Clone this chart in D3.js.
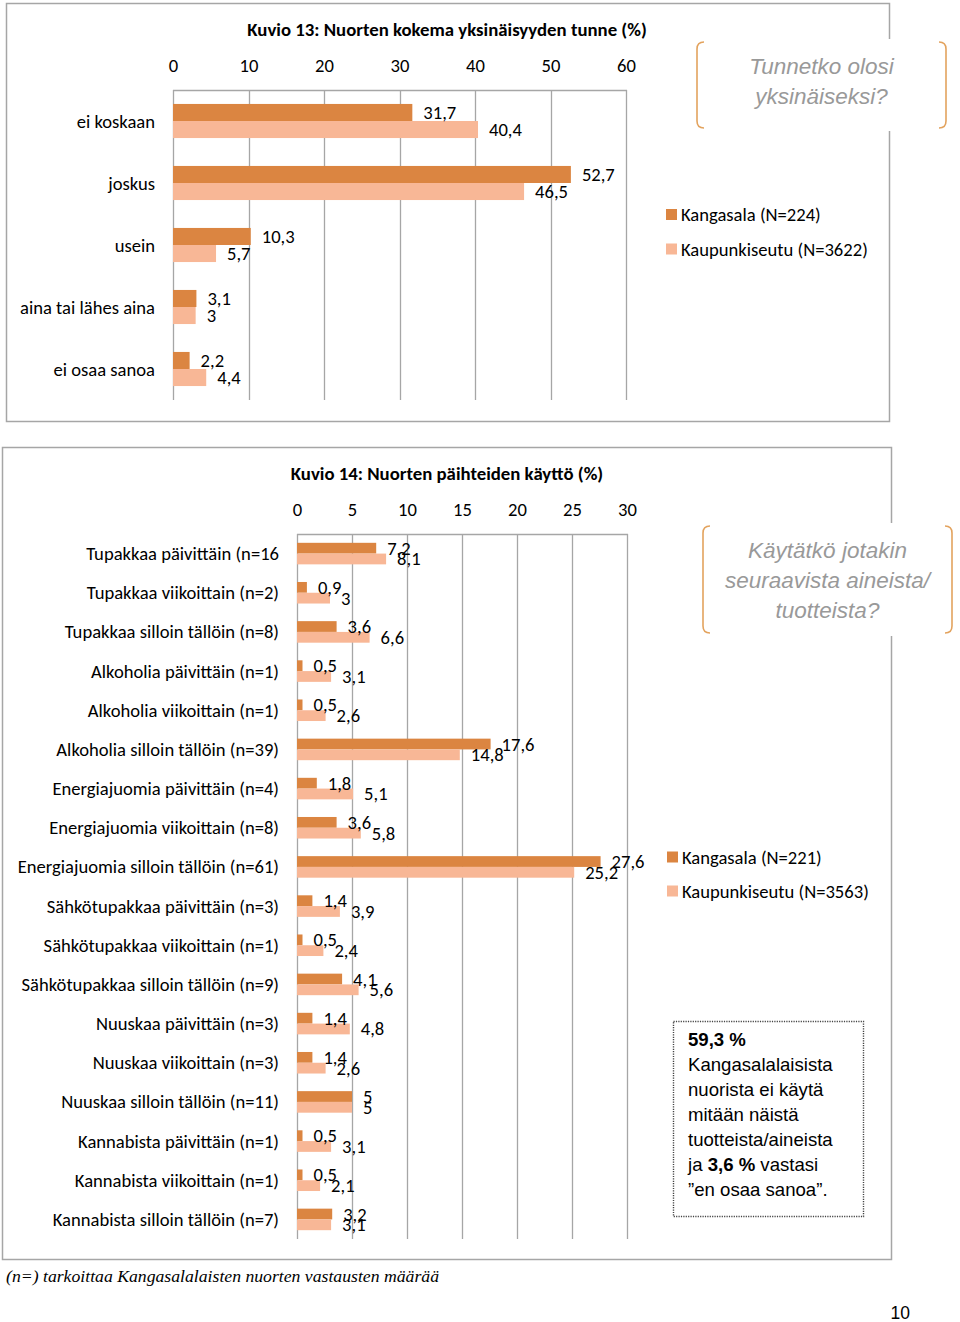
<!DOCTYPE html>
<html><head><meta charset="utf-8">
<script src="https://cdn.jsdelivr.net/npm/d3@7"></script>
<style>
html,body{margin:0;padding:0;background:#fff;}
svg{display:block;}
</style></head>
<body>
<script>
// ---------- DATA ----------
const lonelyTitle = "Kuvio 13: Nuorten kokema yksinäisyyden tunne (%)";
const lonelyCategories = ["ei koskaan", "joskus", "usein", "aina tai lähes aina", "ei osaa sanoa"];
const lonelyKangasala = [31.7, 52.7, 10.3, 3.1, 2.2];
const lonelyKaupunkiseutu = [40.4, 46.5, 5.7, 3, 4.4];
const lonelyTicks = [0, 10, 20, 30, 40, 50, 60];
const lonelyLegend = ["Kangasala (N=224)", "Kaupunkiseutu (N=3622)"];

const substanceTitle = "Kuvio 14: Nuorten päihteiden käyttö (%)";
const substanceCategories = [
  "Tupakkaa päivittäin (n=16", "Tupakkaa viikoittain (n=2)", "Tupakkaa silloin tällöin (n=8)",
  "Alkoholia päivittäin (n=1)", "Alkoholia viikoittain (n=1)", "Alkoholia silloin tällöin (n=39)",
  "Energiajuomia päivittäin (n=4)", "Energiajuomia viikoittain (n=8)", "Energiajuomia silloin tällöin (n=61)",
  "Sähkötupakkaa päivittäin (n=3)", "Sähkötupakkaa viikoittain (n=1)", "Sähkötupakkaa silloin tällöin (n=9)",
  "Nuuskaa päivittäin (n=3)", "Nuuskaa viikoittain (n=3)", "Nuuskaa silloin tällöin (n=11)",
  "Kannabista päivittäin (n=1)", "Kannabista viikoittain (n=1)", "Kannabista silloin tällöin (n=7)"
];
const substanceKangasala = [7.2, 0.9, 3.6, 0.5, 0.5, 17.6, 1.8, 3.6, 27.6, 1.4, 0.5, 4.1, 1.4, 1.4, 5, 0.5, 0.5, 3.2];
const substanceKaupunkiseutu = [8.1, 3, 6.6, 3.1, 2.6, 14.8, 5.1, 5.8, 25.2, 3.9, 2.4, 5.6, 4.8, 2.6, 5, 3.1, 2.1, 3.1];
const substanceTicks = [0, 5, 10, 15, 20, 25, 30];
const substanceLegend = ["Kangasala (N=221)", "Kaupunkiseutu (N=3563)"];

const callout1 = ["Tunnetko olosi", "yksinäiseksi?"];
const callout2 = ["Käytätkö jotakin", "seuraavista aineista/", "tuotteista?"];
const footnote = "(n=) tarkoittaa Kangasalalaisten nuorten vastausten määrää";
const pageNumber = "10";

// ---------- STYLE ----------
const C_DARK = "#DB8541", C_LIGHT = "#F8B796";
const GRID = "#A6A6A6", FRAME = "#A6A6A6", BRACKET = "#E3A35E";
const FONT = "Carlito, Lato, 'Open Sans', sans-serif";
const FS = 18.6;
const fmt = v => String(v).replace(".", ",");

const svg = d3.select("body").append("svg").attr("width", 960).attr("height", 1322)
  .style("font-family", FONT);

function chart(cfg) {
  const g = svg.append("g");
  g.append("rect").attr("x", cfg.frame[0] + 0.5).attr("y", cfg.frame[1] + 0.5)
    .attr("width", cfg.frame[2]).attr("height", cfg.frame[3])
    .attr("fill", "#fff").attr("stroke", FRAME).attr("stroke-width", 1.5);
  g.append("text").attr("x", 447).attr("y", cfg.titleY).attr("dy", "0.35em")
    .attr("text-anchor", "middle").attr("font-weight", "bold").attr("font-size", 18.8)
    .attr("fill", "#000").text(cfg.title);

  const x = d3.scaleLinear().domain(cfg.xDomain).range(cfg.xRange);
  const y = d3.scaleBand().domain(cfg.categories).range(cfg.yRange);
  const bw = y.bandwidth(), bh = bw * 0.275;

  // gridlines
  g.append("g").selectAll("line").data(cfg.ticks).join("line")
    .attr("x1", d => Math.round(x(d)) + 0.5).attr("x2", d => Math.round(x(d)) + 0.5)
    .attr("y1", cfg.yRange[0]).attr("y2", cfg.yRange[1])
    .attr("stroke", GRID).attr("stroke-width", 1.3);
  g.append("line").attr("x1", x(cfg.xDomain[0])).attr("x2", x(cfg.xDomain[1]) + 1)
    .attr("y1", cfg.yRange[0] + 0.5).attr("y2", cfg.yRange[0] + 0.5)
    .attr("stroke", GRID).attr("stroke-width", 1.3);

  // tick labels
  const ax = g.append("g").attr("transform", `translate(0,${cfg.yRange[0] - 25})`)
    .call(d3.axisTop(x).tickValues(cfg.ticks).tickSize(0).tickPadding(0).tickFormat(d => d));
  ax.select(".domain").remove();
  ax.attr("font-family", FONT).attr("font-size", FS);
  ax.selectAll("text").attr("dy", "0.35em").attr("y", 0).attr("fill", "#000");

  // category labels
  g.append("g").selectAll("text").data(cfg.categories).join("text")
    .attr("x", cfg.labelX).attr("y", d => y(d) + bw / 2).attr("dy", "0.35em")
    .attr("text-anchor", "end").attr("font-size", FS).attr("fill", "#000").text(d => d);

  const series = [
    { vals: cfg.a, color: C_DARK, off: -bh },
    { vals: cfg.b, color: C_LIGHT, off: 0 }
  ];
  series.forEach(s => {
    g.append("g").selectAll("rect").data(cfg.categories).join("rect")
      .attr("x", x(0)).attr("y", (d, i) => y(d) + bw / 2 + s.off)
      .attr("width", (d, i) => x(s.vals[i]) - x(0)).attr("height", bh)
      .attr("fill", s.color);
  });
  series.forEach(s => {
    g.append("g").selectAll("text").data(cfg.categories).join("text")
      .attr("x", (d, i) => x(s.vals[i]) + 11)
      .attr("y", (d, i) => y(d) + bw / 2 + s.off + bh / 2).attr("dy", "0.35em")
      .attr("font-size", FS).attr("fill", "#000")
      .text((d, i) => fmt(s.vals[i]));
  });

  // legend
  cfg.legend.forEach((t, i) => {
    const ly = cfg.legendY + i * cfg.legendGap;
    g.append("rect").attr("x", cfg.legendX).attr("y", ly - 5.5).attr("width", 11).attr("height", 11)
      .attr("fill", i === 0 ? C_DARK : C_LIGHT);
    g.append("text").attr("x", cfg.legendX + 15).attr("y", ly).attr("dy", "0.35em")
      .attr("font-size", FS).attr("fill", "#000").text(t);
  });
  return g;
}

chart({
  frame: [6, 3, 883, 418], title: lonelyTitle, titleY: 29,
  xDomain: [0, 60], xRange: [173, 626], yRange: [90, 400],
  categories: lonelyCategories, ticks: lonelyTicks, labelX: 155,
  a: lonelyKangasala, b: lonelyKaupunkiseutu,
  legend: lonelyLegend, legendX: 666, legendY: 214.5, legendGap: 34.5
});
chart({
  frame: [2, 447, 889, 812], title: substanceTitle, titleY: 473,
  xDomain: [0, 30], xRange: [297, 627], yRange: [534, 1239],
  categories: substanceCategories, ticks: substanceTicks, labelX: 279,
  a: substanceKangasala, b: substanceKaupunkiseutu,
  legend: substanceLegend, legendX: 667, legendY: 857, legendGap: 34
});

// callouts with brackets
function callout(x0, x1, y0, y1, lines, firstY, gap) {
  const g = svg.append("g");
  g.append("rect").attr("x", x0 - 2).attr("y", y0 - 3).attr("width", x1 - x0 + 4).attr("height", y1 - y0 + 6)
    .attr("fill", "#fff");
  const c = 7;
  g.append("path").attr("d",
    `M${x0 + c},${y0} Q${x0},${y0} ${x0},${y0 + c} L${x0},${y1 - c} Q${x0},${y1} ${x0 + c},${y1}`)
    .attr("fill", "none").attr("stroke", BRACKET).attr("stroke-width", 1.6);
  g.append("path").attr("d",
    `M${x1 - c},${y0} Q${x1},${y0} ${x1},${y0 + c} L${x1},${y1 - c} Q${x1},${y1} ${x1 - c},${y1}`)
    .attr("fill", "none").attr("stroke", BRACKET).attr("stroke-width", 1.6);
  lines.forEach((t, i) => {
    g.append("text").attr("x", (x0 + x1) / 2).attr("y", firstY + i * gap).attr("dy", "0.35em")
      .attr("text-anchor", "middle").attr("font-family", "'Liberation Sans', Arial, sans-serif")
      .attr("font-style", "italic").attr("font-size", 22.5).attr("fill", "#999").text(t);
  });
}
callout(697, 946, 42, 128, callout1, 66, 30);
callout(703, 952, 526, 633, callout2, 550, 30);

// text box
const box = svg.append("g");
box.append("rect").attr("x", 673.5).attr("y", 1021.5).attr("width", 190).attr("height", 195)
  .attr("fill", "#fff").attr("stroke", "#444").attr("stroke-width", 1.4).attr("stroke-dasharray", "1.2,1.2");
const boxText = box.append("text").attr("font-family", "'Liberation Sans', Arial, sans-serif")
  .attr("font-size", 18.6).attr("fill", "#000");
const boxLines = [
  [["59,3 %", true]],
  [["Kangasalalaisista", false]],
  [["nuorista ei käytä", false]],
  [["mitään näistä", false]],
  [["tuotteista/aineista", false]],
  [["ja ", false], ["3,6 %", true], [" vastasi", false]],
  [["”en osaa sanoa”.", false]]
];
boxLines.forEach((parts, i) => {
  parts.forEach((p, j) => {
    const ts = boxText.append("tspan").text(p[0]).attr("font-weight", p[1] ? "bold" : "normal");
    if (j === 0) ts.attr("x", 688).attr("y", 1046 + i * 25);
  });
});

// footnote & page number
svg.append("text").attr("x", 6).attr("y", 1276).attr("dy", "0.35em")
  .attr("font-family", "'Liberation Serif', 'DejaVu Serif', serif").attr("font-style", "italic")
  .attr("font-size", 17.7).attr("fill", "#000").text(footnote);
svg.append("text").attr("x", 910).attr("y", 1319).attr("text-anchor", "end")
  .attr("font-family", "'Liberation Sans', Arial, sans-serif").attr("font-size", 17.5)
  .attr("fill", "#000").text(pageNumber);
</script>
</body></html>
